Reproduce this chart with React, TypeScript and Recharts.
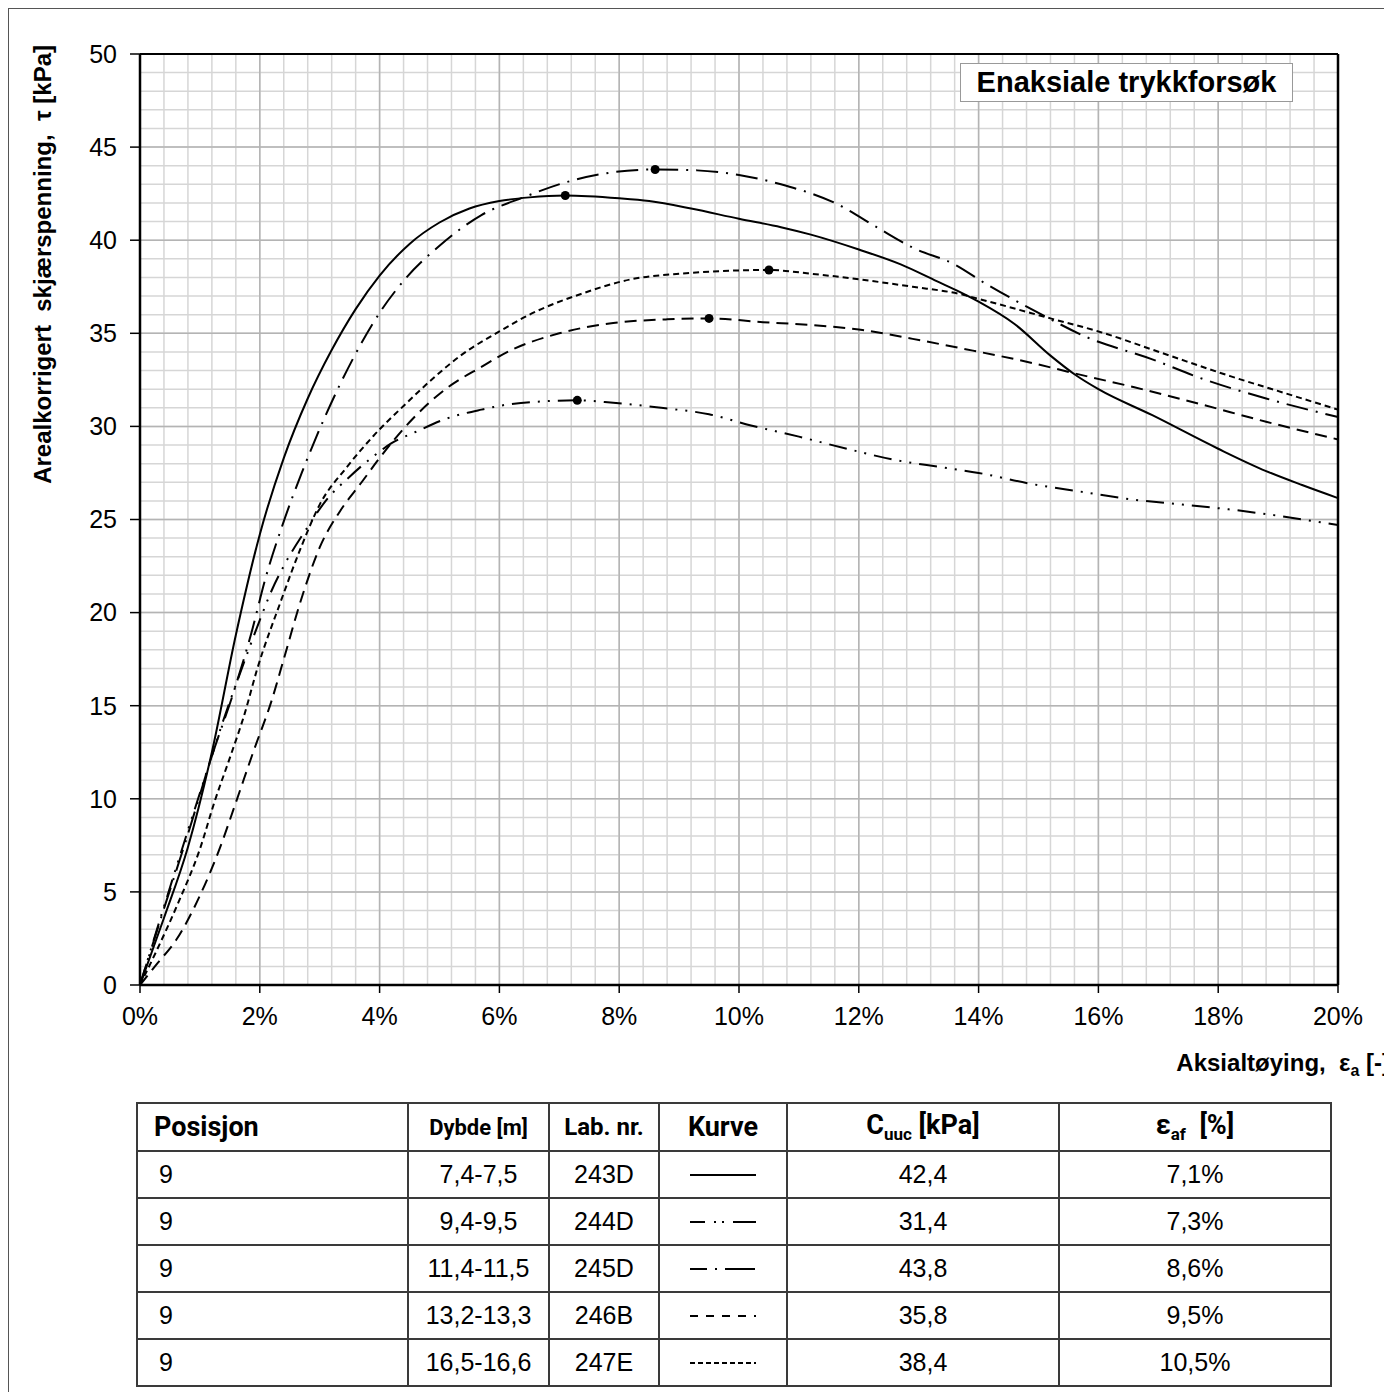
import React from 'react';
import { ComposedChart, Line, Scatter, XAxis, YAxis, CartesianGrid, ReferenceLine, Label } from 'recharts';

// curves: strain [%] and shear stress [kPa]
const strain243D = [0, 0.4, 0.8, 1.2, 1.6, 2.0, 2.4, 2.8, 3.2, 3.6, 4.0, 4.5, 5.0, 5.5, 6.0, 6.5, 7.1, 8.0, 8.5, 9.2, 10.0, 10.7, 11.2, 12.0, 12.7, 13.3, 13.7, 14.0, 14.6, 15.2, 15.6, 16.0, 16.9, 18.0, 18.8, 19.4, 20.0];
const tau243D = [0, 3.6, 7.4, 12.5, 18.8, 24.2, 28.3, 31.5, 34.1, 36.3, 38.1, 39.8, 40.95, 41.7, 42.1, 42.3, 42.4, 42.25, 42.1, 41.7, 41.15, 40.7, 40.3, 39.5, 38.7, 37.8, 37.2, 36.7, 35.5, 33.8, 32.8, 32.0, 30.6, 28.8, 27.6, 26.85, 26.15];

const strain244D = [0, 0.4, 0.8, 1.2, 1.4, 1.7, 2.0, 2.2, 2.4, 2.8, 3.1, 3.5, 3.9, 4.2, 4.6, 5.1, 5.7, 6.2, 7.3, 7.9, 8.7, 9.5, 10.2, 11.0, 11.8, 12.6, 13.4, 14.0, 14.9, 15.7, 16.5, 17.4, 18.3, 19.0, 20.0];
const tau244D = [0, 4.2, 8.3, 12.3, 14.3, 17.0, 19.6, 21.2, 22.5, 24.6, 26.0, 27.3, 28.4, 29.1, 29.7, 30.4, 30.9, 31.2, 31.4, 31.27, 31.0, 30.65, 30.05, 29.45, 28.8, 28.2, 27.8, 27.5, 26.9, 26.5, 26.1, 25.8, 25.5, 25.2, 24.7];

const strain245D = [0, 0.4, 0.8, 1.2, 1.55, 1.85, 2.1, 2.4, 2.7, 3.1, 3.55, 4.0, 4.45, 5.0, 5.7, 6.4, 7.1, 7.9, 8.6, 9.3, 10.0, 10.7, 11.6, 12.35, 12.9, 13.6, 14.1, 15.0, 15.8, 16.9, 17.7, 18.8, 20.0];
const tau245D = [0, 4.1, 8.1, 12.3, 15.6, 18.8, 21.9, 24.9, 27.5, 30.6, 33.6, 36.1, 38.0, 39.7, 41.35, 42.3, 43.1, 43.65, 43.8, 43.75, 43.5, 43.0, 42.0, 40.6, 39.6, 38.7, 37.7, 36.1, 34.8, 33.6, 32.6, 31.5, 30.5];

const strain246B = [0, 0.3, 0.6, 1.0, 1.35, 1.6, 1.9, 2.2, 2.4, 2.7, 3.0, 3.35, 3.7, 4.0, 4.55, 5.1, 5.7, 6.2, 7.0, 7.9, 8.8, 9.5, 10.4, 11.2, 12.0, 12.9, 13.7, 14.9, 15.6, 16.6, 17.7, 18.8, 20.0];
const tau246B = [0, 1.2, 2.4, 4.8, 7.5, 9.8, 12.6, 15.3, 17.5, 20.8, 23.5, 25.5, 27.0, 28.3, 30.4, 32.0, 33.2, 34.1, 35.0, 35.55, 35.75, 35.8, 35.6, 35.45, 35.2, 34.7, 34.2, 33.4, 32.85, 32.1, 31.2, 30.25, 29.3];

const strain247E = [0, 0.3, 0.65, 1.0, 1.25, 1.5, 1.75, 1.95, 2.35, 2.7, 3.0, 3.45, 3.9, 4.4, 4.9, 5.35, 6.0, 6.5, 7.35, 8.2, 9.0, 10.5, 11.2, 12.0, 12.9, 13.7, 14.0, 15.2, 16.0, 17.1, 18.2, 19.1, 20.0];
const tau247E = [0, 2.0, 4.5, 7.3, 9.9, 12.2, 14.6, 16.9, 20.6, 23.6, 25.8, 27.8, 29.5, 31.1, 32.6, 33.8, 35.1, 36.0, 37.1, 37.9, 38.2, 38.4, 38.2, 37.9, 37.5, 37.1, 36.85, 35.8, 35.1, 33.9, 32.7, 31.8, 30.9];

// table
const posisjon = ['9', '9', '9', '9', '9'];
const dybde = ['7,4-7,5', '9,4-9,5', '11,4-11,5', '13,2-13,3', '16,5-16,6'];
const labNr = ['243D', '244D', '245D', '246B', '247E'];
const cuuc = [42.4, 31.4, 43.8, 35.8, 38.4];
const eaf = [7.1, 7.3, 8.6, 9.5, 10.5];
const dashes = ['', '18 8 2 8 2 8', '22 8 2 8', '12 7', '6 4'];
const legendDashes = ['', '15 9 2 6 2 9 30', '17 8 2 8 30', '8 8', '5 3'];

const xTicks = [0, 2, 4, 6, 8, 10, 12, 14, 16, 18, 20];
const yTicks = [0, 5, 10, 15, 20, 25, 30, 35, 40, 45, 50];

const minorX = Array.from({ length: 51 }, (_, i) => +(i * 0.4).toFixed(1));
const minorY = Array.from({ length: 51 }, (_, i) => i);

const toData = (xs: number[], ys: number[]) => xs.map((x, i) => ({ x, y: ys[i] }));
const curves = [
  toData(strain243D, tau243D),
  toData(strain244D, tau244D),
  toData(strain245D, tau245D),
  toData(strain246B, tau246B),
  toData(strain247E, tau247E),
];
const peaks = eaf.map((x, i) => ({ x, y: cuuc[i] }));

const fmt = (v: number) => v.toFixed(1).replace('.', ',');
const FONT = '"Liberation Sans", Arial, sans-serif';
const HEAD = '"Liberation Sans Narrow", "Arial Narrow", Roboto, sans-serif';

const tickStyle = { fontSize: 25, fill: '#000', fontFamily: FONT };

const XTitle = () => (
  <text x={1381} y={1062} textAnchor="end" fontFamily={FONT} fontWeight="bold" fontSize={24} fill="#000" style={{ whiteSpace: 'pre' }}>
    {'Aksialtøying,  ε'}
    <tspan fontSize={16} dy={5}>a</tspan>
    <tspan dy={-5}>{' [-]'}</tspan>
  </text>
);

const YTitle = () => (
  <text x={0} y={0} transform="translate(42,36) rotate(-90)" textAnchor="end" fontFamily={FONT} fontWeight="bold" fontSize={24} fill="#000" style={{ whiteSpace: 'pre' }}>
    {'Arealkorrigert  skjærspenning,  τ [kPa]'}
  </text>
);

const cellBorder = '2px solid #3a3a3a';
const td: React.CSSProperties = { border: cellBorder, fontFamily: FONT, fontSize: 25, textAlign: 'center', padding: 0, height: 45 };
const th: React.CSSProperties = { border: cellBorder, fontFamily: HEAD, fontWeight: 'bold', textAlign: 'center', padding: 0, height: 46 };

export default function App() {
  return (
    <div style={{ position: 'relative', width: 1384, height: 1384, boxSizing: 'border-box', borderTop: '1px solid #555', borderLeft: '1px solid #555' }}>
      <ComposedChart width={1383} height={1080} margin={{ top: 45, right: 54, left: 0, bottom: 0 }}>
        <CartesianGrid stroke="#d6d6d6" strokeWidth={1.5} horizontalValues={minorY} verticalValues={minorX} />
        <CartesianGrid stroke="#b4b4b4" strokeWidth={1.5} horizontalValues={yTicks} verticalValues={xTicks} />
        <XAxis
          type="number"
          dataKey="x"
          domain={[0, 20]}
          ticks={xTicks}
          tickFormatter={(v: number) => `${v}%`}
          tick={tickStyle}
          height={104}
          tickSize={8}
          tickMargin={14}
          axisLine={{ stroke: '#000', strokeWidth: 2.5 }}
          tickLine={{ stroke: '#000', strokeWidth: 1.5 }}
          interval={0}
        >
          <Label content={() => <XTitle />} />
        </XAxis>
        <YAxis
          type="number"
          dataKey="y"
          domain={[0, 50]}
          ticks={yTicks}
          tick={tickStyle}
          width={131}
          tickSize={10}
          tickMargin={13}
          axisLine={{ stroke: '#000', strokeWidth: 2.5 }}
          tickLine={{ stroke: '#000', strokeWidth: 1.5 }}
          interval={0}
        >
          <Label content={() => <YTitle />} />
        </YAxis>
        <ReferenceLine y={50} stroke="#000" strokeWidth={2} />
        <ReferenceLine x={20} stroke="#000" strokeWidth={2.5} />
        {curves.map((d, i) => (
          <Line
            key={labNr[i]}
            data={d}
            dataKey="y"
            type="monotone"
            stroke="#000"
            strokeWidth={2}
            strokeDasharray={dashes[i] || undefined}
            dot={false}
            activeDot={false}
            isAnimationActive={false}
          />
        ))}
        <Scatter
          data={peaks}
          dataKey="y"
          fill="#000"
          isAnimationActive={false}
          shape={(p: any) => <circle cx={p.cx} cy={p.cy} r={4.5} fill="#000" />}
        />
      </ComposedChart>

      <div
        style={{
          position: 'absolute', left: 951, top: 54, width: 333, height: 39, boxSizing: 'border-box',
          border: '1px solid #999', background: '#fff', fontFamily: FONT, fontWeight: 'bold', fontSize: 29,
          lineHeight: '37px', textAlign: 'center', color: '#000',
        }}
      >
        Enaksiale trykkforsøk
      </div>

      <table style={{ position: 'absolute', left: 127, top: 1093, width: 1194, borderCollapse: 'collapse', tableLayout: 'fixed', color: '#000' }}>
        <colgroup>
          <col style={{ width: 271 }} />
          <col style={{ width: 141 }} />
          <col style={{ width: 110 }} />
          <col style={{ width: 128 }} />
          <col style={{ width: 272 }} />
          <col style={{ width: 272 }} />
        </colgroup>
        <thead>
          <tr>
            <th style={{ ...th, fontSize: 27, textAlign: 'left', paddingLeft: 16 }}>Posisjon</th>
            <th style={{ ...th, fontSize: 22 }}>Dybde [m]</th>
            <th style={{ ...th, fontSize: 24 }}>Lab. nr.</th>
            <th style={{ ...th, fontSize: 27 }}>Kurve</th>
            <th style={{ ...th, fontSize: 27 }}>
              C<sub style={{ fontSize: 17 }}>uuc</sub> [kPa]
            </th>
            <th style={{ ...th, fontSize: 27 }}>
              ε<sub style={{ fontSize: 17 }}>af</sub>{'\u00a0\u00a0'}[%]
            </th>
          </tr>
        </thead>
        <tbody>
          {labNr.map((lab, i) => (
            <tr key={lab}>
              <td style={{ ...td, textAlign: 'left', paddingLeft: 21 }}>{posisjon[i]}</td>
              <td style={td}>{dybde[i]}</td>
              <td style={td}>{lab}</td>
              <td style={td}>
                <svg width={72} height={12} style={{ display: 'block', margin: '0 auto' }}>
                  <line x1={3} y1={6} x2={69} y2={6} stroke="#000" strokeWidth={2} strokeDasharray={legendDashes[i] || undefined} />
                </svg>
              </td>
              <td style={td}>{fmt(cuuc[i])}</td>
              <td style={td}>{fmt(eaf[i])}%</td>
            </tr>
          ))}
        </tbody>
      </table>
    </div>
  );
}
